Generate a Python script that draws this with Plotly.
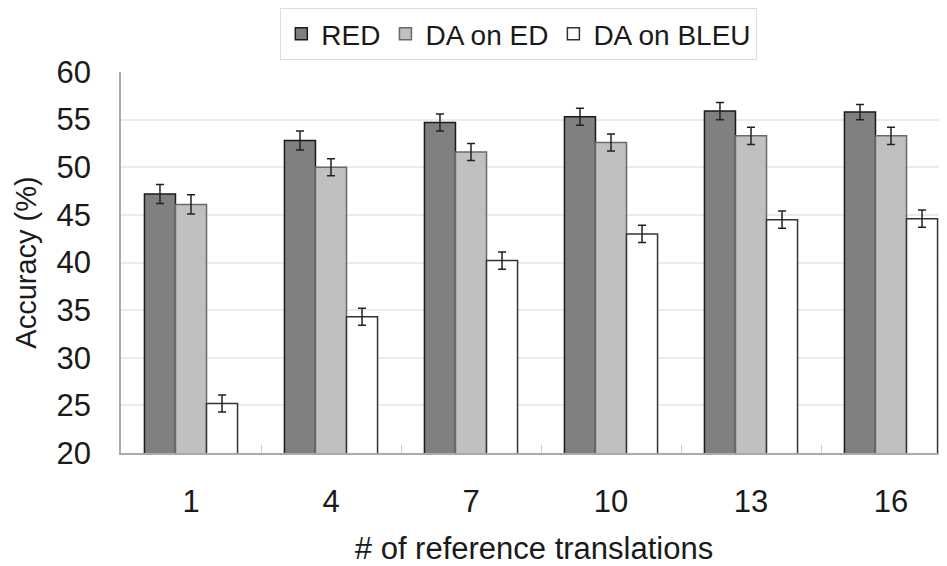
import plotly.graph_objects as go

categories = ["1", "4", "7", "10", "13", "16"]
red = [47.2, 52.8, 54.7, 55.3, 55.9, 55.8]
da_ed = [46.1, 50.0, 51.6, 52.6, 53.3, 53.3]
da_bleu = [25.2, 34.3, 40.2, 43.0, 44.5, 44.6]
err_red = [1.0, 1.0, 0.9, 0.9, 0.9, 0.8]
err_ed = [1.0, 0.9, 0.9, 0.9, 0.9, 0.9]
err_bleu = [0.9, 0.9, 0.9, 0.9, 0.9, 0.9]

series = [
    ("RED", red, err_red, "#808080", "#1a1a1a"),
    ("DA on ED", da_ed, err_ed, "#c0c0c0", "#6a6a6a"),
    ("DA on BLEU", da_bleu, err_bleu, "#ffffff", "#333333"),
]

fig = go.Figure()
for name, vals, err, fill, line in series:
    fig.add_trace(go.Bar(
        x=categories, y=vals, name=name,
        marker=dict(color=fill, line=dict(color=line, width=1.5)),
        error_y=dict(type="data", array=err, color="#222222", thickness=1.5, width=4),
    ))

font = "Liberation Sans, Arial, sans-serif"
fig.update_layout(
    width=939, height=558,
    margin=dict(l=113, r=0, t=64, b=113),
    paper_bgcolor="white", plot_bgcolor="white",
    barmode="group", bargap=0.335, bargroupgap=0,
    font=dict(family=font, size=31, color="#1a1a1a"),
    showlegend=True,
    legend=dict(
        orientation="h", xref="container", yref="container",
        x=0.544, xanchor="center", y=1.0, yanchor="top",
        bordercolor="#dddddd", borderwidth=1, bgcolor="white",
        font=dict(size=28), itemwidth=30, tracegroupgap=0,
    ),
    xaxis=dict(
        automargin=False,
        range=[-0.5, 5.4], showline=True, linecolor="#aaaaaa", linewidth=1.5,
        ticks="inside", tickson="boundaries", ticklen=8, tickcolor="#cccccc",
        showgrid=False, ticklabelstandoff=20,
        title=dict(text="# of reference translations", standoff=24, font=dict(size=31)),
        tickfont=dict(size=31),
    ),
    yaxis=dict(
        automargin=False,
        range=[20, 60], dtick=5, showline=True, linecolor="#aaaaaa", linewidth=1.5,
        gridcolor="#ebebeb", gridwidth=1.5, zeroline=False,
        ticks="outside", ticklen=22, tickcolor="rgba(0,0,0,0)",
        title=dict(text="Accuracy (%)", standoff=11, font=dict(size=29)),
        tickfont=dict(size=31),
    ),
)

fig.write_html("out.html")
